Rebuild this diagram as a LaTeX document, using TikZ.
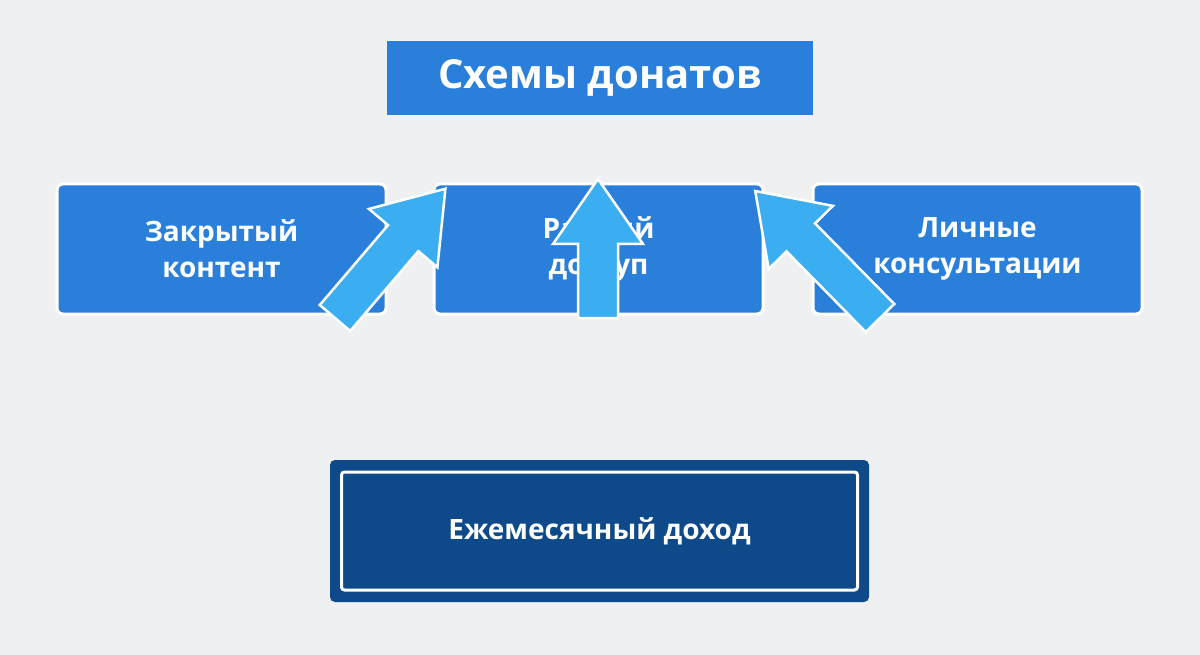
\documentclass[tikz,border=0pt]{standalone}
\usepackage{fontspec}
\setmainfont{Open Sans}
\definecolor{bg}{HTML}{EEF0F2}
\definecolor{mblue}{HTML}{2A7FDA}
\definecolor{dblue}{HTML}{0E4A8A}
\definecolor{lblue}{HTML}{3AAEF0}
\begin{document}
\begin{tikzpicture}[x=1pt,y=-1pt,
  top/.style={draw=white,line width=3pt,fill=mblue,rounded corners=6pt,minimum width=329pt,minimum height=130pt,align=center,text=white,font=\fontsize{28}{36}\selectfont\bfseries},
  arr/.style={fill=lblue,draw=white,line width=2.5pt,line join=miter}]
\fill[bg] (0,0) rectangle (1200,655);
\useasboundingbox (0,0) rectangle (1200,655);
\node[fill=mblue,minimum width=426pt,minimum height=74pt,text=white,font=\fontsize{40}{48}\selectfont\bfseries] (title) at (600,78) {Схемы донатов};
\node[top] (a) at (221.5,249) {Закрытый\\контент};
\node[top] (b) at (598.5,249) {Ранний\\доступ};
\node[top] (c) at (977.5,249) {Личные\\консультации};
\node[fill=dblue,rounded corners=5pt,minimum width=539pt,minimum height=142pt,drop shadow/.try] (d) at (599.5,531) {};
\node[draw=white,line width=3pt,rounded corners=3pt,minimum width=516pt,minimum height=118pt,text=white,font=\fontsize{28}{36}\selectfont\bfseries] (din) at (599.5,531) {Ежемесячный доход};
\foreach \sx/\sy/\ang/\len in {335/318/49.5/170, 598/318/90/139, 880/318/134.5/178}{
  \begin{scope}[shift={(\sx,\sy)},rotate=\ang]
    \draw[arr] (0,-20) -- (\len-65,-20) -- (\len-65,-45) -- (\len,0) -- (\len-65,45) -- (\len-65,20) -- (0,20) -- cycle;
  \end{scope}}
\end{tikzpicture}
\end{document}
